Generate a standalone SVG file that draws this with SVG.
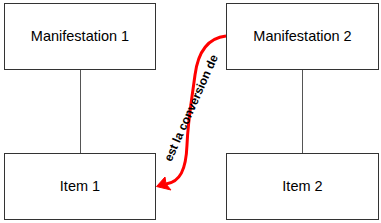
<svg xmlns="http://www.w3.org/2000/svg" width="381" height="223" viewBox="0 0 381 223">
<style>
.box{fill:#fff;stroke:#333;stroke-width:1}
.lbl{font-family:"Liberation Sans",Arial,sans-serif;font-size:14.5px;fill:#000;text-anchor:middle}
.line{stroke:#555;stroke-width:1;fill:none}
.rel{stroke:#ff0000;stroke-width:3;fill:none}
.rtxt{font-family:"Liberation Sans",Arial,sans-serif;font-size:12px;font-weight:bold;fill:#000;text-anchor:middle}
</style>
<rect width="381" height="223" fill="#fff"/>
<g id="connectors">
<line class="line" x1="80.5" y1="69.5" x2="80.5" y2="153.5"/>
<line class="line" x1="302.5" y1="69.5" x2="302.5" y2="153.5"/>
<path class="rel" d="M226,36 C208,38 198,52 195,75 C191,105 188,120 187,145 C186,170 180,182 166,184"/>
<polygon points="156.5,186.5 165,177 166,184 171,190" fill="#ff0000" stroke="#ff0000" stroke-width="1" stroke-linejoin="miter"/>
<text class="rtxt" transform="translate(191,108) rotate(-66)" x="0" y="4">est la conversion de</text>
</g>
<g id="manifestation1">
<rect class="box" x="4.5" y="3.5" width="151" height="66"/>
<text class="lbl" x="80" y="41">Manifestation 1</text>
</g>
<g id="manifestation2">
<rect class="box" x="226.5" y="3.5" width="152" height="66"/>
<text class="lbl" x="302.5" y="41">Manifestation 2</text>
</g>
<g id="item1">
<rect class="box" x="4.5" y="153.5" width="151" height="66"/>
<text class="lbl" x="80" y="191">Item 1</text>
</g>
<g id="item2">
<rect class="box" x="226.5" y="153.5" width="152" height="66"/>
<text class="lbl" x="302.5" y="191">Item 2</text>
</g>
</svg>
